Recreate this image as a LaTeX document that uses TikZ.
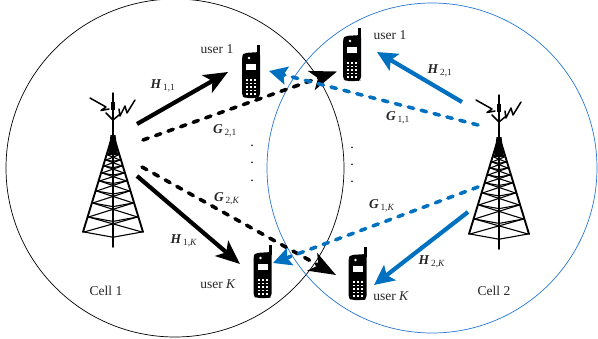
\documentclass[tikz,border=0pt]{standalone}
\usepackage{fontspec}
\setmainfont{Liberation Serif}
\usetikzlibrary{arrows.meta}
\definecolor{linkblue}{RGB}{0,112,192}
\definecolor{cellblue}{RGB}{40,120,215}
\tikzset{
  solidlink/.style={line width=4.2pt,-{Stealth[length=24pt,width=20pt,inset=6pt]}},
  solidblue/.style={line width=4.2pt,linkblue,-{Stealth[length=20pt,width=19pt,inset=4pt]}},
  dashlink/.style={line width=3.6pt,line cap=round,dash pattern=on 5.5pt off 7.8pt,-{Stealth[length=27pt,width=20pt,inset=7pt]}},
  dashblue/.style={line width=3.6pt,line cap=round,linkblue,dash pattern=on 5.5pt off 7.8pt,-{Stealth[length=18pt,width=18pt,inset=3pt]}},
  lbl/.style={inner sep=0pt,text=black!85,font=\fontsize{13.5}{15}\selectfont},
  dotlbl/.style={inner sep=0pt,font=\fontsize{14}{14}\selectfont},
}
\newcommand{\linkH}[2]{\textbf{\textit{#1}}\textsubscript{\,#2}}
\newcommand{\towerdraw}[2]{%
  \begin{scope}[shift={(#1,#2)},line cap=round,line join=round]
    \draw[line width=1.5pt] (0,-27) -- (0,127);
    \draw[line width=1.5pt] (-23,-22) -- (-7,-13) -- (-12,-9.5) -- (-4,-11);
    \draw[line width=1.5pt] (-7,-7) -- (0,0);
    \draw[line width=1.5pt] (22,-20) -- (14,-7) -- (12,-14) -- (7,-4) -- (6,-11);
    \draw[line width=1.5pt] (6,-5) -- (0,0);
    \fill (-2.2,-18) rectangle (2.2,-10);
    \fill (-2.5,15) -- (2.5,15) -- (5,35) -- (-5,35) -- cycle;
    \draw[line width=1.9pt] (-2.5,22) -- (-30,112);
    \draw[line width=1.9pt] (2.5,22) -- (30,112);
    \foreach \ya/\wa/\yb/\wb in {112/29/97/24.5,97/24.5/83/20.2,83/20.2/71/16.5,71/16.5/61/13.4,61/13.4/53/11,53/11/46/8.8,46/8.8/40/7,40/7/35/5.4}{
      \draw[line width=1.1pt] (-\wa,\ya) -- (0,{\ya+\wa*.18}) -- (\wa,\ya);
      \draw[line width=1.1pt] (-\wa,\ya) -- (\wb,\yb);
      \draw[line width=1.1pt] (\wa,\ya) -- (-\wb,\yb);
    }
  \end{scope}}
\newcommand{\phonedraw}[2]{%
  \begin{scope}[shift={(#1,#2)}]
    \fill (15,-7) rectangle (18,3);
    \fill[rounded corners=3pt] (0,4) -- (2,1) -- (18,0) -- (18,45) -- (15,46) -- (3,46) -- (0,44) -- cycle;
    \fill[white] (4,12) rectangle (14,18);
    \fill[white] (7,6) circle (1.4);
    \foreach \py in {28,31.5,35,38.5,42}{\foreach \px in {5,9,13}{
      \fill[white] (\px-1,\py-.9) rectangle (\px+1,\py+.9);}}
  \end{scope}}
\begin{document}
\begin{tikzpicture}[x=1pt,y=-1pt]
  \useasboundingbox (0,0) rectangle (598,338);
  \fill[white] (0,0) rectangle (598,338);
  \node[circle,draw=black,line width=.7pt,minimum size=338pt,inner sep=0pt] (cellA) at (175,168) {};
  \node[circle,draw=cellblue,line width=.7pt,minimum size=330pt,inner sep=0pt] (cellB) at (432,168) {};
  \towerdraw{113}{120}
  \towerdraw{499}{122}
  \phonedraw{242}{52}
  \phonedraw{343}{35}
  \phonedraw{253.5}{252}
  \phonedraw{348.5}{254}
  % link ends
  \coordinate (bsAhU) at (137,124); \coordinate (ueAa) at (228,72);
  \coordinate (bsAhK) at (137,176); \coordinate (ueAk) at (240,264);
  \coordinate (bsAgU) at (143,140); \coordinate (ueBa) at (337,71.5);
  \coordinate (bsAgK) at (142,167); \coordinate (ueBk) at (336,275);
  \coordinate (bsBhU) at (462,102); \coordinate (ueBaH) at (377,52);
  \coordinate (bsBhK) at (468,212); \coordinate (ueBkH) at (374,285);
  \coordinate (bsBgU) at (478,125); \coordinate (ueAaG) at (269,71);
  \coordinate (bsBgK) at (478,187); \coordinate (ueAkG) at (273,263);
  \draw[solidlink] (bsAhU) -- (ueAa);
  \draw[solidlink] (bsAhK) -- (ueAk);
  \draw[dashlink] (bsAgU) -- (ueBa);
  \draw[dashlink] (bsAgK) -- (ueBk);
  \draw[solidblue] (bsBhU) -- (ueBaH);
  \draw[solidblue] (bsBhK) -- (ueBkH);
  \draw[dashblue] (bsBgU) -- (ueAaG);
  \draw[dashblue] (bsBgK) -- (ueAkG);
  % labels
  \node[lbl] (l1) at (163,86) {\linkH{H}{1,1}};
  \node[lbl] (l2) at (225,131) {\linkH{G}{2,1}};
  \node[lbl] (l3) at (227,199) {\linkH{G}{2,\textit{K}}};
  \node[lbl] (l4) at (184,241) {\linkH{H}{1,\textit{K}}};
  \node[lbl] (l5) at (440,71) {\linkH{H}{2,1}};
  \node[lbl] (l6) at (398,118) {\linkH{G}{1,1}};
  \node[lbl] (l7) at (382,206) {\linkH{G}{1,\textit{K}}};
  \node[lbl] (l8) at (432,262) {\linkH{H}{2,\textit{K}}};
  \node[lbl] (u1) at (217,49) {user 1};
  \node[lbl] (u2) at (390,35) {user 1};
  \node[lbl] (u3) at (218,284) {user \textit{K}};
  \node[lbl] (u4) at (391,296) {user \textit{K}};
  \node[lbl] (c1) at (106,291) {Cell 1};
  \node[lbl] (c2) at (494,291) {Cell 2};
  \foreach \n/\dx/\dy in {a/252/146,b/252/163,c/252/181,d/352/148,e/352/165,f/352/182}{
    \node[dotlbl] (dot\n) at (\dx,\dy) {.};
  }
\end{tikzpicture}
\end{document}
